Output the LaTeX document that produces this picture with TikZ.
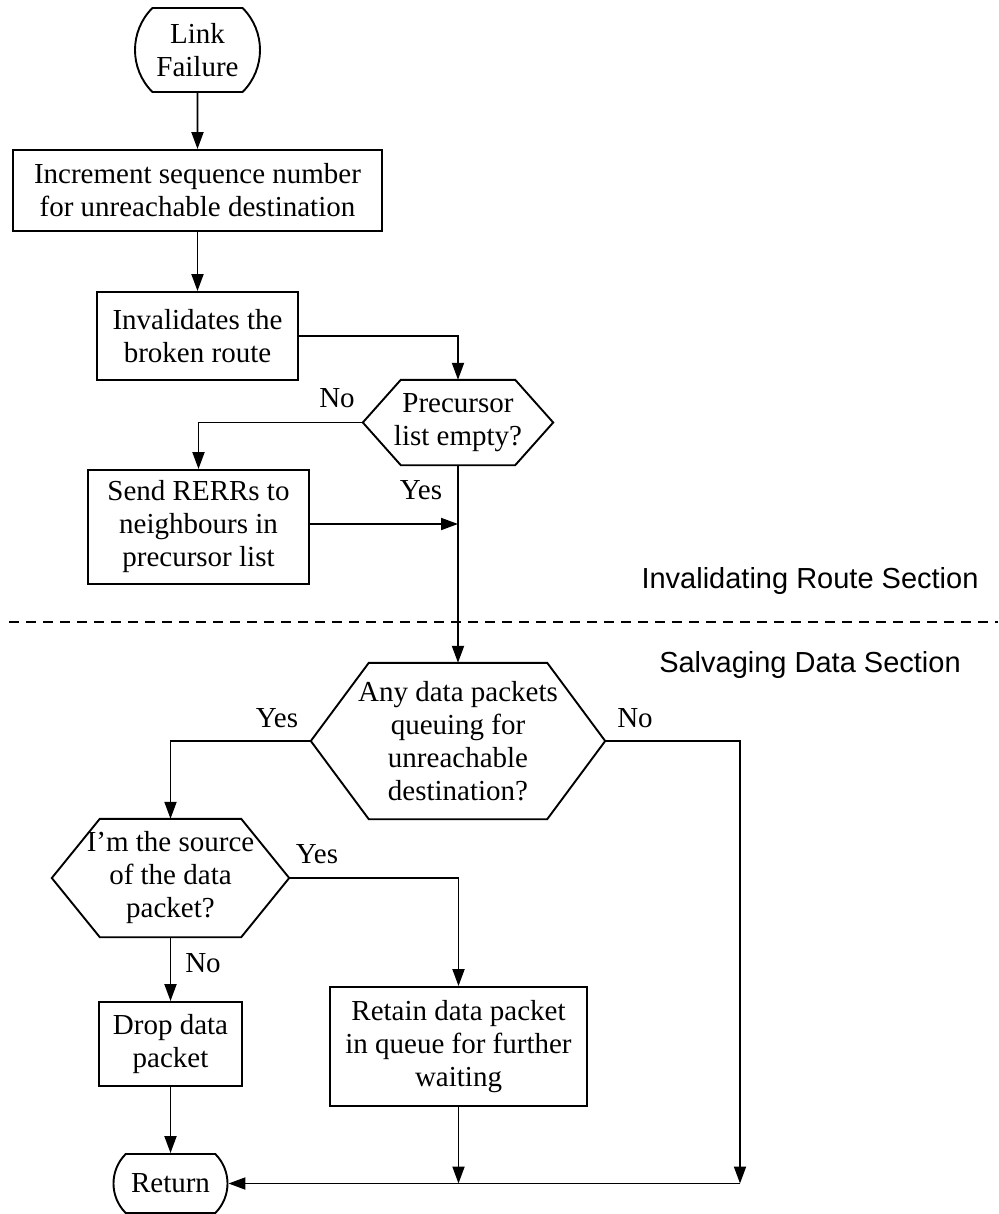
\documentclass[tikz,border=0pt]{standalone}
\usepackage{fontspec}
\setmainfont{Liberation Serif}
\newfontfamily\lsans{Liberation Sans}
\usetikzlibrary{arrows.meta,shapes.misc}
\newcommand\hexo[2]{\draw[ln] ([xshift=#2]#1.north west) -- ([xshift=-#2]#1.north east) -- (#1.east) -- ([xshift=-#2]#1.south east) -- ([xshift=#2]#1.south west) -- (#1.west) -- cycle;}
\tikzset{
  ln/.style={line width=1.9pt, draw=black},
  arr/.style={ln, -{Triangle[length=17pt,width=12pt]}},
  txt/.style={font=\fontsize{29}{33}\selectfont, align=center, inner sep=0pt},
  procbox/.style={txt, draw, line width=1.9pt},
  termbox/.style={txt, draw, line width=1.9pt, rounded rectangle, rounded rectangle arc length=90},
  hexbox/.style={txt},
  lbl/.style={font=\fontsize{29}{33}\selectfont, inner sep=0pt, anchor=base},
  seclbl/.style={font=\lsans\fontsize{29}{33}\selectfont, inner sep=0pt, anchor=base},
}
\begin{document}
\begin{tikzpicture}[x=1pt,y=-1pt]
\useasboundingbox (0,0) rectangle (998,1214);
\node[termbox, minimum width=125pt, minimum height=84pt] (lf) at (197.5,50) {Link\\Failure};
\node[procbox, minimum width=369pt, minimum height=81pt] (inc) at (197.5,190.5) {Increment sequence number\\for unreachable destination};
\node[procbox, minimum width=201pt, minimum height=88pt] (inv) at (197.5,336) {Invalidates the\\broken route};
\node[hexbox, minimum width=190pt, minimum height=85pt] (pre) at (458,422.5) {Precursor\\list empty?};
\hexo{pre}{38}
\node[procbox, minimum width=221pt, minimum height=114pt] (send) at (198.5,527) {Send RERRs to\\neighbours in\\precursor list};
\node[hexbox, minimum width=294pt, minimum height=156pt] (any) at (458,741) {Any data packets\\queuing for\\unreachable\\destination?};
\hexo{any}{58}
\node[hexbox, minimum width=237pt, minimum height=118pt] (im) at (170.5,878) {I'm the source\\of the data\\packet?};
\hexo{im}{48}
\node[procbox, minimum width=143pt, minimum height=84pt] (drop) at (170.5,1044) {Drop data\\packet};
\node[procbox, minimum width=257pt, minimum height=119pt] (ret) at (458.5,1046.5) {Retain data packet\\in queue for further\\waiting};
\node[termbox, minimum width=114pt, minimum height=59pt] (rtn) at (170.5,1183.5) {Return};
\coordinate (jr) at (740,1183.5);

\draw[arr] (lf) -- (inc);
\draw[arr] (inc) -- (inv);
\draw[arr] (inv.east) -| (pre.north);
\draw[arr] (pre.west) -| (send.north);
\draw[arr] (pre.south) -- (any.north);
\draw[arr] ([yshift=3pt]send.east) -- ([yshift=3pt]send.east -| pre.south);
\draw[arr] (any.west) -| (im.north);
\draw[arr] (any.east) -| (jr);
\draw[arr] (im.east) -| (ret.north);
\draw[arr] (im.south) -- (drop.north);
\draw[arr] (drop.south) -- (rtn.north);
\draw[arr] (ret.south) -- (ret.south |- rtn.east);
\draw[arr] (jr) -- (rtn.east);

\draw[line width=1.5pt, dash pattern=on 10pt off 7pt] (9,622) -- (998,622);

\node[lbl] (no1) at (337,407) {No};
\node[lbl] (yes1) at (421,499) {Yes};
\node[lbl] (yes2) at (277,727) {Yes};
\node[lbl] (no2) at (635,727) {No};
\node[lbl] (yes3) at (317,863) {Yes};
\node[lbl] (no3) at (203,972) {No};
\node[seclbl] (s1) at (810,588) {Invalidating Route Section};
\node[seclbl] (s2) at (810,672) {Salvaging Data Section};
\end{tikzpicture}
\end{document}
